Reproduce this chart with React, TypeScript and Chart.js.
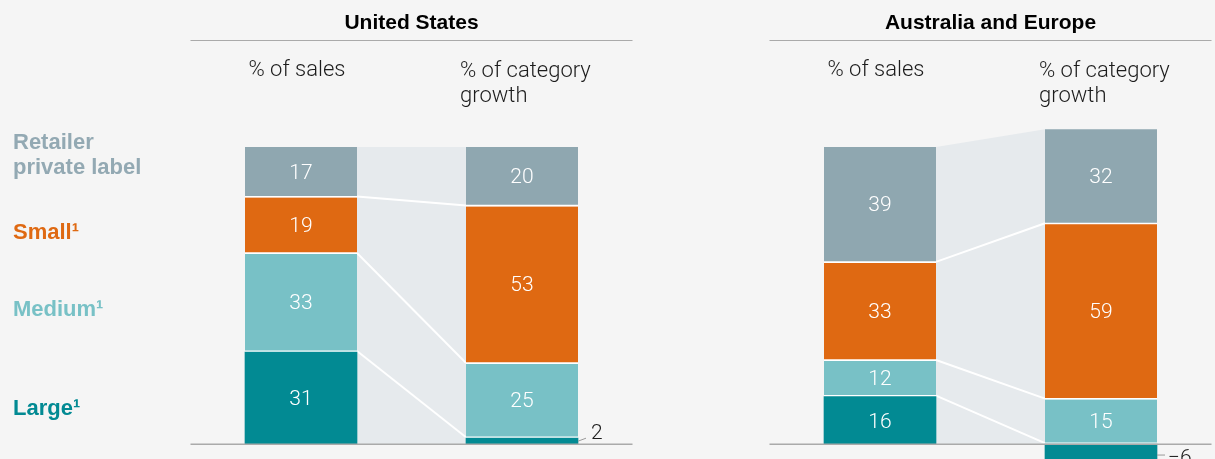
import React, { useEffect, useRef } from "react";
import { Chart, registerables } from "chart.js";

Chart.register(...registerables);

// ---------- data ----------
const categories = [["% of sales"], ["% of category", "growth"]];
const segmentNames = ["Large¹", "Medium¹", "Small¹", "Retailer private label"];
const segmentColors = ["#028a93", "#78c1c6", "#df6912", "#8fa7b0"];

const usLarge = [31, 2];
const usMedium = [33, 25];
const usSmall = [19, 53];
const usPrivate = [17, 20];

const aeLarge = [16, -6];
const aeMedium = [12, 15];
const aeSmall = [33, 59];
const aePrivate = [39, 32];

const panelTitles = ["United States", "Australia and Europe"];
const rowLabels = [["Retailer", "private label"], ["Small¹"], ["Medium¹"], ["Large¹"]];
const rowLabelColors = ["#93a9b3", "#df6912", "#78c1c6", "#028a93"];

// ---------- styling ----------
const BG = "#f5f5f5";
const BAND = "#e6eaed";
const RULE = "#aaaaaa";
const TEXT = "#1c1c1c";
const LIGHT_FONT = "300 21px Roboto, 'Liberation Sans', sans-serif";
const HEAD_FONT = "300 22px Roboto, 'Liberation Sans', sans-serif";
const BOLD_FONT = "bold 21px 'Liberation Sans', Arial, sans-serif";
const LABEL_FONT = "bold 22px 'Liberation Sans', Arial, sans-serif";

function makePlugin(title: string, showRowLabels: boolean) {
  return {
    id: "panelDecor",
    beforeDatasetsDraw(chart: any) {
      const ctx = chart.ctx;
      const n = chart.data.datasets.length;
      const metas = chart.data.datasets.map((_: any, d: number) => chart.getDatasetMeta(d));
      const a = metas.map((m: any) => m.data[0]);
      const b = metas.map((m: any) => m.data[1]);
      const x0 = a[0].x + a[0].width / 2;
      const x1 = b[0].x - b[0].width / 2;
      const zero = chart.scales.y.getPixelForValue(0);
      ctx.save();
      ctx.fillStyle = BAND;
      ctx.beginPath();
      ctx.moveTo(x0, a[n - 1].y);
      ctx.lineTo(x1, b[n - 1].y);
      ctx.lineTo(x1, zero);
      ctx.lineTo(x0, zero);
      ctx.closePath();
      ctx.fill();
      ctx.strokeStyle = "#ffffff";
      ctx.lineWidth = 2;
      for (let k = 1; k < n; k++) {
        ctx.beginPath();
        ctx.moveTo(x0, a[k].base - 1);
        ctx.lineTo(x1, b[k].base - 1);
        ctx.stroke();
      }
      ctx.restore();
    },
    afterDatasetsDraw(chart: any) {
      const ctx = chart.ctx;
      const area = chart.chartArea;
      const zero = chart.scales.y.getPixelForValue(0);
      ctx.save();
      // baseline
      ctx.strokeStyle = RULE;
      ctx.lineWidth = 1.5;
      ctx.beginPath();
      ctx.moveTo(area.left, zero);
      ctx.lineTo(area.right, zero);
      ctx.stroke();

      // data labels
      chart.data.datasets.forEach((ds: any, d: number) => {
        const meta = chart.getDatasetMeta(d);
        meta.data.forEach((el: any, i: number) => {
          const v = ds.data[i];
          const top = Math.min(el.y, el.base);
          const bottom = Math.max(el.y, el.base);
          const h = bottom - top;
          const txt = v < 0 ? "\u2212" + Math.abs(v) : String(v);
          ctx.font = LIGHT_FONT;
          if (h > 22) {
            ctx.fillStyle = "#ffffff";
            ctx.textAlign = "center";
            ctx.textBaseline = "middle";
            const bw = d === 0 ? 0 : 2;
            ctx.fillText(txt, el.x, (top + bottom - bw) / 2 + 2);
          } else {
            const right = el.x + el.width / 2;
            const cy = (top + bottom) / 2;
            ctx.strokeStyle = "#9a9a9a";
            ctx.lineWidth = 1;
            ctx.beginPath();
            if (v >= 0) {
              ctx.moveTo(right, cy);
              ctx.lineTo(right + 8, cy - 3);
            } else {
              ctx.moveTo(right, cy + 2);
              ctx.lineTo(right + 8, cy + 2);
            }
            ctx.stroke();
            ctx.fillStyle = TEXT;
            ctx.textAlign = "left";
            ctx.textBaseline = "middle";
            ctx.fillText(txt, right + (v >= 0 ? 13 : 11), v >= 0 ? cy - 7 : cy + 6);
          }
        });
      });
      ctx.restore();
    },
    afterDraw(chart: any) {
      const ctx = chart.ctx;
      const area = chart.chartArea;
      ctx.save();
      // title
      ctx.fillStyle = "#000000";
      ctx.font = BOLD_FONT;
      ctx.textAlign = "center";
      ctx.textBaseline = "middle";
      ctx.fillText(title, (area.left + area.right) / 2, 23);
      // rule
      ctx.strokeStyle = RULE;
      ctx.lineWidth = 1.2;
      ctx.beginPath();
      ctx.moveTo(area.left, 40.5);
      ctx.lineTo(area.right, 40.5);
      ctx.stroke();
      // column headers
      const meta = chart.getDatasetMeta(0);
      ctx.font = HEAD_FONT;
      ctx.fillStyle = TEXT;
      const labels = chart.data.labels;
      labels.forEach((lab: string[], i: number) => {
        const el = meta.data[i];
        if (lab.length === 1) {
          ctx.textAlign = "center";
          ctx.fillText(lab[0], el.x - 4, 70);
        } else {
          ctx.textAlign = "left";
          lab.forEach((line, j) => ctx.fillText(line, el.x - el.width / 2 - 6, 71 + j * 25));
        }
      });
      // row labels
      if (showRowLabels) {
        ctx.font = LABEL_FONT;
        ctx.textAlign = "left";
        const ys = [[143, 168], [233], [310], [409]];
        rowLabels.forEach((lines, r) => {
          ctx.fillStyle = rowLabelColors[r];
          lines.forEach((line, j) => ctx.fillText(line, 13, ys[r][j]));
        });
      }
      ctx.restore();
    },
  };
}

function Panel(props: {
  left: number;
  width: number;
  padLeft: number;
  padRight: number;
  title: string;
  series: number[][];
  showRowLabels: boolean;
}) {
  const ref = useRef<HTMLCanvasElement | null>(null);
  useEffect(() => {
    if (!ref.current) return;
    const chart = new Chart(ref.current, {
      type: "bar",
      data: {
        labels: categories as any,
        datasets: segmentNames.map((name, d) => ({
          label: name,
          data: props.series[d],
          backgroundColor: segmentColors[d],
          borderColor: "#ffffff",
          borderWidth: d === 0 ? 0 : { top: 0, left: 0, right: 0, bottom: 2 },
          borderSkipped: false,
          barThickness: 112,
        })),
      },
      options: {
        responsive: false,
        animation: false,
        devicePixelRatio: 1,
        events: [],
        layout: { padding: { left: props.padLeft, right: props.padRight, top: 117.35, bottom: 0 } },
        plugins: {
          legend: { display: false },
          tooltip: { enabled: false },
          title: { display: false },
        },
        scales: {
          x: { display: false, stacked: true },
          y: { display: false, stacked: true, min: -5, max: 110 },
        },
      } as any,
      plugins: [makePlugin(props.title, props.showRowLabels)],
    });
    return () => chart.destroy();
  }, []);
  return (
    <canvas
      ref={ref}
      width={props.width}
      height={459}
      style={{ position: "absolute", left: props.left, top: 0, width: props.width, height: 459 }}
    />
  );
}

export default function App() {
  return (
    <div
      style={{
        position: "fixed",
        left: 0,
        top: 0,
        width: 1215,
        height: 459,
        background: BG,
        overflow: "hidden",
      }}
    >
      <Panel
        left={0}
        width={640}
        padLeft={190.5}
        padRight={7.5}
        title={panelTitles[0]}
        series={[usLarge, usMedium, usSmall, usPrivate]}
        showRowLabels={true}
      />
      <Panel
        left={640}
        width={575}
        padLeft={129.5}
        padRight={3.5}
        title={panelTitles[1]}
        series={[aeLarge, aeMedium, aeSmall, aePrivate]}
        showRowLabels={false}
      />
    </div>
  );
}
